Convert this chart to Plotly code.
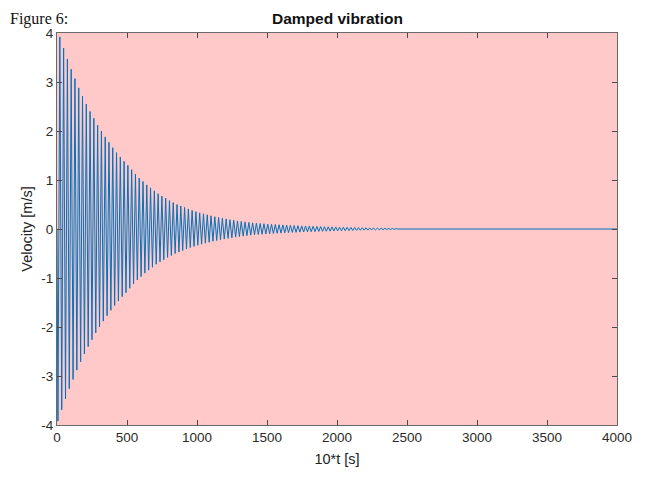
import plotly.graph_objects as go

# ---- data ----
period = 27.0            # oscillation period in "10*t" units
first_extreme = 6.75     # time of the first (negative) extreme
start_value = 0.0
# amplitude of each oscillation cycle (trough then peak), m/s
cycle_amplitude = [
    3.92, 3.69, 3.47, 3.26, 3.07, 2.88, 2.71, 2.55, 2.40, 2.26,
    2.12, 2.00, 1.88, 1.77, 1.66, 1.56, 1.47, 1.38, 1.30, 1.21,
    1.12, 1.04, 0.97, 0.90, 0.84, 0.78, 0.72, 0.67, 0.63, 0.58,
    0.54, 0.50, 0.47, 0.44, 0.41, 0.38, 0.355, 0.33, 0.31, 0.29,
    0.27, 0.25, 0.235, 0.22, 0.205, 0.19, 0.18, 0.165, 0.155, 0.145,
    0.135, 0.126, 0.118, 0.112, 0.107, 0.101, 0.096, 0.092, 0.087, 0.083,
    0.079, 0.075, 0.071, 0.068, 0.064, 0.061, 0.058, 0.055, 0.053, 0.050,
    0.047, 0.045, 0.043, 0.040, 0.038, 0.036, 0.034, 0.032, 0.030, 0.028,
    0.026, 0.024, 0.022, 0.020, 0.018, 0.016, 0.014, 0.012, 0.010, 0.008,
]
end_time = 4000.0
end_value = 0.0

x_ticks = [0, 500, 1000, 1500, 2000, 2500, 3000, 3500, 4000]
x_tick_labels = ["0", "500", "1000", "1500", "2000", "2500", "3000", "3500", "4000"]
y_ticks = [-4, -3, -2, -1, 0, 1, 2, 3, 4]
y_tick_labels = ["-4", "-3", "-2", "-1", "0", "1", "2", "3", "4"]

# ---- build the trace ----
xs = [0.0]
ys = [start_value]
for k, a in enumerate(cycle_amplitude):
    xs.append(first_extreme + k * period)
    ys.append(-a)
    xs.append(first_extreme + k * period + period / 2)
    ys.append(a)
xs.append(xs[-1] + period / 4)
ys.append(end_value)
xs.append(end_time)
ys.append(end_value)

fig = go.Figure()
fig.add_trace(go.Scatter(x=xs, y=ys, mode="lines",
                         line=dict(color="#0072BD", width=1),
                         hoverinfo="skip", showlegend=False))

axis_common = dict(
    showline=True, linecolor="#6a6a6a", linewidth=1, mirror="ticks",
    ticks="inside", ticklen=5, tickcolor="#4a4a4a", tickwidth=1,
    showgrid=False, zeroline=False, automargin=False,
    tickfont=dict(family="Liberation Sans, Arial", size=13.5, color="#2b2b2b"),
)

# the page adds an 8 px offset, so the figure is laid out 8 px up/left
W, H = 648, 477
PL, PR, PT, PB = 49, 39, 25, 60
plot_w = W - PL - PR
plot_h = H - PT - PB
plot_bottom = H - PB

fig.update_layout(
    width=W, height=H,
    margin=dict(l=PL, r=PR, t=PT, b=PB),
    paper_bgcolor="white",
    plot_bgcolor="#FFC9C9",
    font=dict(family="Liberation Sans, Arial", color="#222222"),
    xaxis=dict(range=[0, 4000], tickvals=x_ticks, ticktext=x_tick_labels,
               title=dict(text="10*t [s]", font=dict(size=14.5, color="#222222"),
                          standoff=9),
               **axis_common),
    yaxis=dict(range=[-4, 4], tickvals=y_ticks, ticktext=y_tick_labels,
               title=dict(text="Velocity [m/s]", font=dict(size=14.5, color="#222222"),
                          standoff=5),
               **axis_common),
    annotations=[
        dict(text="<b>Damped vibration</b>", xref="paper", yref="paper",
             x=0.5, y=(plot_bottom - 10) / plot_h, xanchor="center", yanchor="middle",
             showarrow=False,
             font=dict(family="Liberation Sans, Arial", size=15.5, color="#111111")),
        dict(text="Figure 6:", xref="paper", yref="paper",
             x=-PL / plot_w, y=plot_bottom / plot_h, xanchor="left", yanchor="top",
             showarrow=False,
             font=dict(family="Liberation Serif, Times New Roman", size=16, color="#111111")),
    ],
)

fig.write_html("out.html")
